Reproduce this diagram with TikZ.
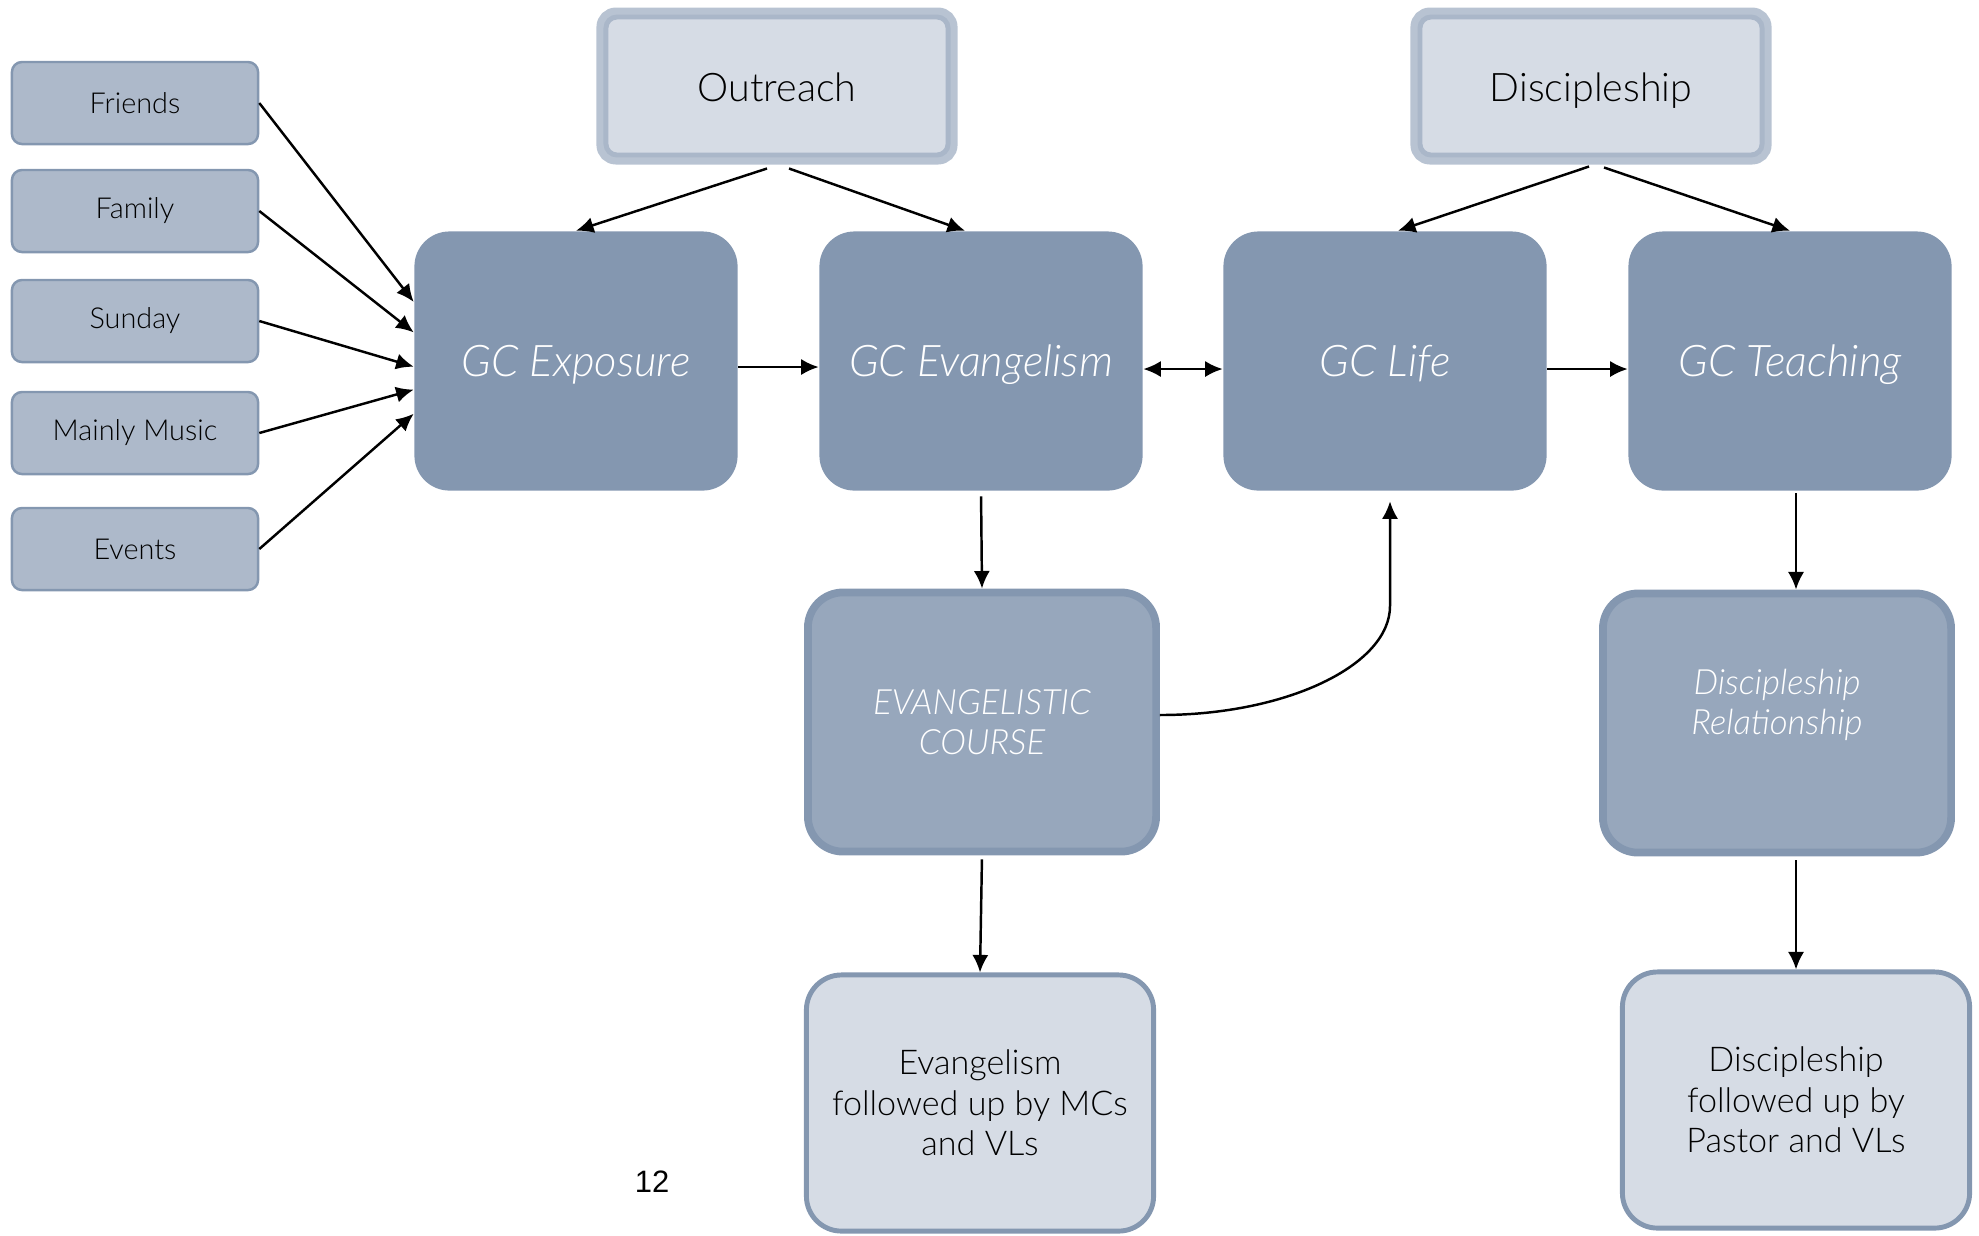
\documentclass[tikz,border=0pt]{standalone}
\usepackage{fontspec}
\setmainfont{Lato}[UprightFont=* Light, ItalicFont=* Light Italic]
\newfontfamily\numfont{Liberation Sans}
\usetikzlibrary{arrows.meta}
\definecolor{gcdark}{HTML}{8497B0}
\definecolor{gcmid}{HTML}{97A7BC}
\definecolor{gcsrc}{HTML}{ADB9CA}
\definecolor{gclight}{HTML}{D6DCE5}
\definecolor{ringout}{HTML}{B8C3D2}
\definecolor{ringin}{HTML}{AAB7C9}
\def\rad{3.5mm}
\def\tip{Latex[length=5pt,width=4.6pt]}

\tikzset{
  srcbox/.style={draw=gcdark, fill=gcsrc, line width=0.7pt, rounded corners=1mm,
    minimum width=2.46cm, minimum height=0.82cm, font=\fontsize{8.2}{10}\selectfont},
  headbox/.style={draw=ringout, fill=gclight, line width=3.1pt, rounded corners=1.4mm,
    minimum width=3.5cm, minimum height=1.46cm, text height=1.85ex, text depth=0.1ex,
    font=\fontsize{11.2}{13}\selectfont},
  ring/.style={draw=ringin, line width=1.4pt, rounded corners=1.1mm},
  gcbox/.style={fill=gcdark, rounded corners=\rad, minimum width=3.23cm, minimum height=2.59cm,
    text height=1.9ex, text depth=0.1ex, text=white, font=\itshape\fontsize{12.4}{14}\selectfont},
  midbox/.style={draw=gcdark, fill=gcmid, line width=2.2pt, rounded corners=\rad,
    minimum width=3.48cm, minimum height=2.59cm, text=white, align=center,
    font=\itshape\fontsize{9.9}{11.4}\selectfont},
  endbox/.style={draw=gcdark, fill=gclight, line width=1.4pt, rounded corners=\rad,
    minimum width=3.47cm, minimum height=2.56cm, align=center, font=\fontsize{9.7}{11.5}\selectfont},
  arr/.style={-{\tip}, line width=0.7pt},
  arrb/.style={{\tip}-{\tip}, line width=0.7pt},
}

\begin{document}
\begin{tikzpicture}[x=0.01cm,y=-0.01cm]
\useasboundingbox (0,0) rectangle (1979,1235);

\node[srcbox] (fr) at (135,103) {Friends};
\node[srcbox] (fa) at (135,211) {Family};
\node[srcbox] (su) at (135,321) {Sunday};
\node[srcbox] (mm) at (135,433) {Mainly Music};
\node[srcbox] (ev) at (135,549) {Events};

\node[headbox] (outr) at (777,86) {Outreach};
\node[headbox] (disc) at (1591,86) {Discipleship};
\foreach \h in {outr,disc}
  \draw[ring] ([shift={(9.5,9.5)}]\h.north west) rectangle ([shift={(-9.5,-9.5)}]\h.south east);

\node[gcbox] (expo) at (576,361) {GC Exposure};
\node[gcbox] (evan) at (981,361) {GC Evangelism};
\node[gcbox] (life) at (1385,361) {GC Life};
\node[gcbox] (teach) at (1790,361) {GC Teaching};

\node[midbox] (course) at (982,722) {EVANGELISTIC\\COURSE};
\node[midbox] (rel) at (1777,723) {};
\node[midbox, draw=none, fill=none] (reltxt) at ([yshift=1.8mm]rel.center) {Discipleship\\Relationship};

\node[endbox] (evfu) at (980,1103) {Evangelism\\followed up by MCs\\and VLs};
\node[endbox] (difu) at (1796,1100) {Discipleship\\followed up by\\Pastor and VLs};

\node[font=\numfont\fontsize{8.8}{10}\selectfont] (pg) at (652,1182) {12};

\foreach \s/\a in {fr/160,fa/170.5,su/182,mm/190.5,ev/198}
  \draw[arr] (\s.east) -- (expo.\a);

\draw[arr] ([yshift=-0.6mm]expo.east) -- ([yshift=-0.6mm]expo.east -| evan.west);
\draw[arrb] ([yshift=-0.8mm]evan.east) -- ([yshift=-0.8mm]evan.east -| life.west);
\draw[arr] ([yshift=-0.8mm]life.east) -- ([yshift=-0.8mm]life.east -| teach.west);

\draw[arr] ([xshift=-1mm,yshift=-0.4mm]outr.south) -- (expo.north);
\draw[arr] ([xshift=1.2mm,yshift=-0.4mm]outr.south) -- ([xshift=-1.6mm]evan.north);
\draw[arr] ([xshift=-0.2mm,yshift=-0.2mm]disc.south) -- ([xshift=1.3mm]life.north);
\draw[arr] ([xshift=1.3mm,yshift=-0.3mm]disc.south) -- (teach.north);

\draw[arr, shorten <=0.5mm] (evan.south) -- (course.north);
\draw[arr, shorten <=0.4mm] (course.south) -- (evfu.north);
\draw[arr, shorten <=0.2mm] ([xshift=0.6mm]teach.south) -- ([xshift=0.6mm]teach.south |- rel.north);
\draw[arr, shorten <=0.4mm] (difu.north |- rel.south) -- (difu.north);

\coordinate (bend) at (1390,606);
\draw[arr, shorten >=1mm] ([yshift=0.7mm]course.east) .. controls +(127,0) and +(0,59) .. (bend) -- (bend |- life.south);

\end{tikzpicture}
\end{document}
